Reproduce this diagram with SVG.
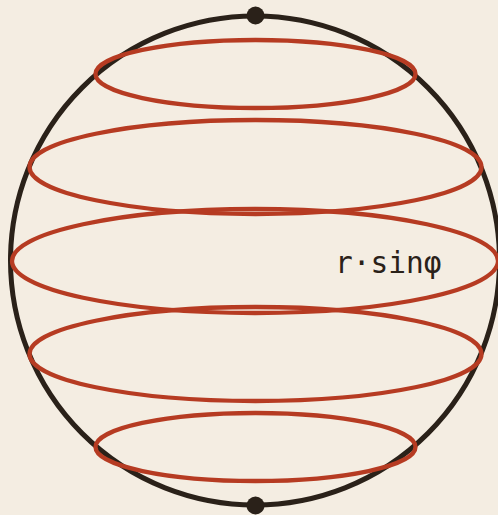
<svg xmlns="http://www.w3.org/2000/svg" width="498" height="515" viewBox="0 0 498 515">
<style>
.lat{fill:none;stroke:#b63b22;stroke-width:4.3}
.sphere{fill:none;stroke:#2a2119;stroke-width:5}
.pole{fill:#2a2119}
.lbl{font-family:"DejaVu Sans Mono","Liberation Mono",monospace;font-size:29.5px;fill:#2a2119}
</style>
<rect width="498" height="515" fill="#f4ede2"/>
<g id="sphere"><circle class="sphere" cx="255" cy="260.5" r="244.5"/></g>
<g id="latitudes">
<ellipse id="lat1" class="lat" cx="255.5" cy="74" rx="160" ry="34"/>
<ellipse id="lat2" class="lat" cx="255.5" cy="167" rx="226" ry="47"/>
<ellipse id="lat3" class="lat" cx="255" cy="261" rx="243" ry="52"/>
<ellipse id="lat4" class="lat" cx="255.5" cy="354" rx="226" ry="47"/>
<ellipse id="lat5" class="lat" cx="255.5" cy="447" rx="160" ry="34"/>
</g>
<g id="poles">
<circle id="north" class="pole" cx="255.5" cy="15.5" r="9"/>
<circle id="south" class="pole" cx="255.5" cy="505.5" r="9"/>
</g>
<g id="label"><text class="lbl" x="335" y="272.5">r·sinφ</text></g>
</svg>
